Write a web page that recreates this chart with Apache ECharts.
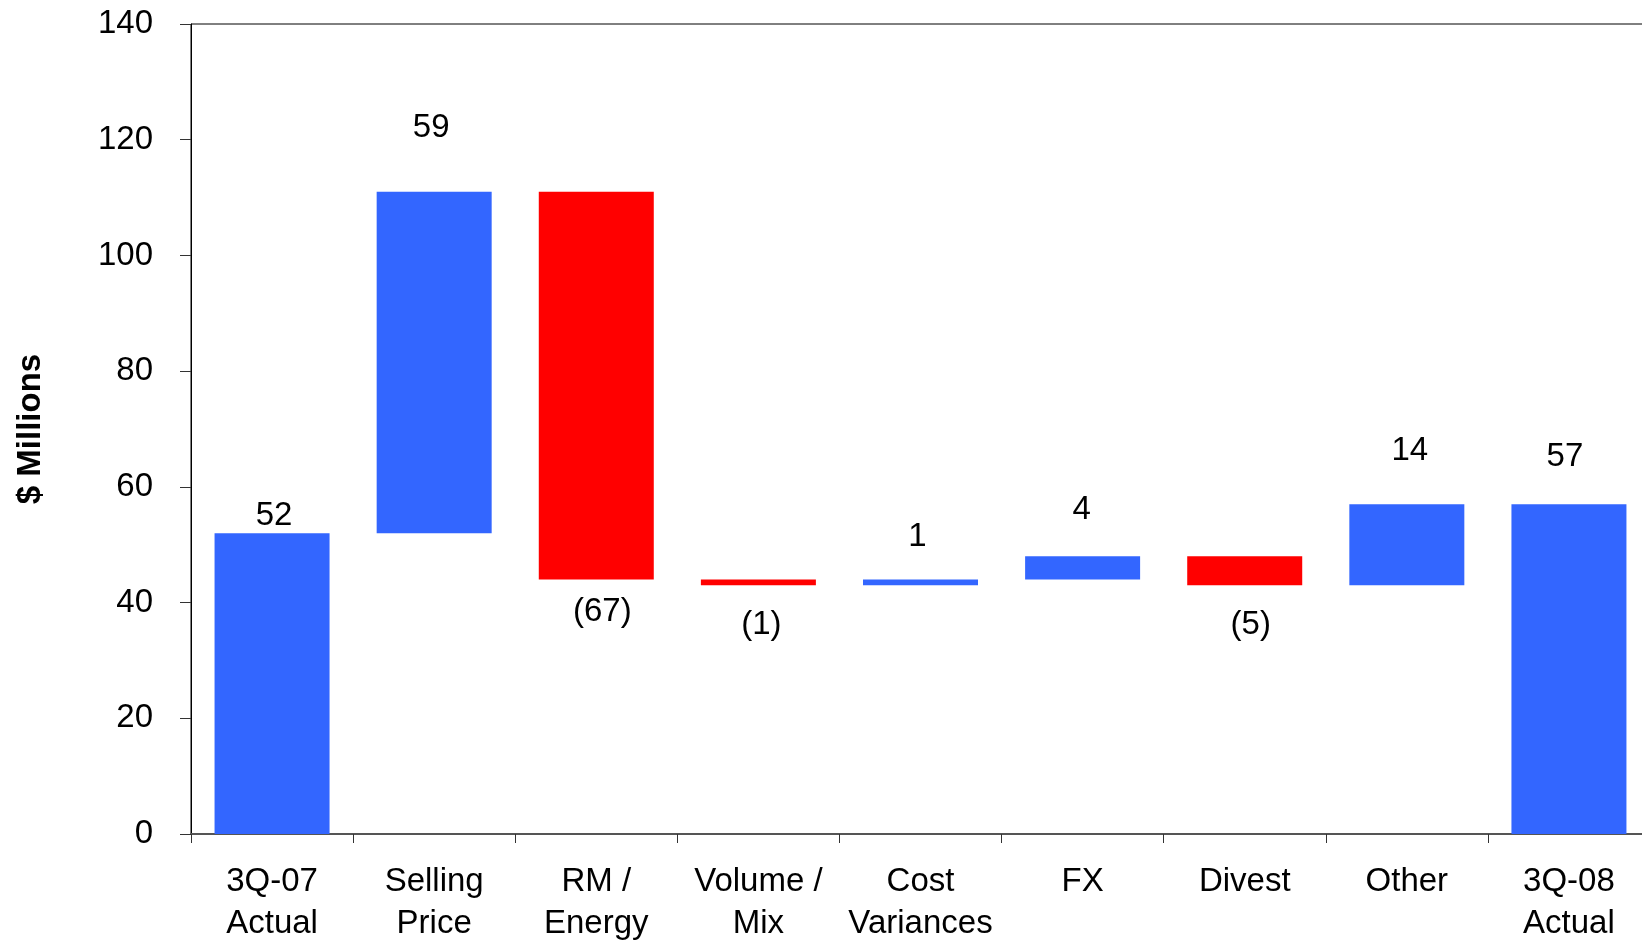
<!DOCTYPE html>
<html>
<head>
<meta charset="utf-8">
<script src="https://cdn.jsdelivr.net/npm/echarts@6/dist/echarts.min.js"></script>
<style>
html,body{margin:0;padding:0;background:#fff;}
#chart{width:1642px;height:940px;}
</style>
</head>
<body>
<div id="chart"></div>
<script>
// ---- data ----
var categories = ['3Q-07\nActual', 'Selling\nPrice', 'RM /\nEnergy', 'Volume /\nMix', 'Cost\nVariances', 'FX', 'Divest', 'Other', '3Q-08\nActual'];
var startValue = 52;
var changes = [59, -67, -1, 1, 4, -5, 14];
var endValue = 57;
var yTicks = [0, 20, 40, 60, 80, 100, 120, 140];

// ---- derived ----
var BLUE = '#3366FF', RED = '#FF0000';
var bases = [0], heights = [startValue], signs = [1];
var running = startValue;
changes.forEach(function (c) {
  var next = running + c;
  bases.push(Math.min(running, next));
  heights.push(Math.abs(c));
  signs.push(c >= 0 ? 1 : -1);
  running = next;
});
bases.push(0); heights.push(endValue); signs.push(1);

// label placement (style): [distance, dx]
var labelStyle = [[1, 2], [47, -3], [16, 6], [23, 3], [26, -3], [30, -1], [23, 6], [37, 3], [31, -4]];

var visible = heights.map(function (h, i) {
  var pos = signs[i] > 0 ? 'top' : 'bottom';
  return {
    value: h,
    itemStyle: { color: signs[i] > 0 ? BLUE : RED },
    label: {
      show: true,
      position: pos,
      distance: labelStyle[i][0],
      offset: [labelStyle[i][1], 0],
      formatter: signs[i] > 0 ? String(h) : '(' + h + ')'
    }
  };
});

var FONT = 'Liberation Sans, Arial, sans-serif';
var chart = echarts.init(document.getElementById('chart'), null, { renderer: 'canvas' });
chart.setOption({
  animation: false,
  backgroundColor: '#fff',
  grid: {
    left: 191, top: 24, width: 1459, height: 810,
    outerBoundsMode: 'none',
    containLabel: false,
    show: true, borderColor: '#000', borderWidth: 1, backgroundColor: 'transparent'
  },
  xAxis: {
    type: 'category',
    data: categories,
    axisLine: { lineStyle: { color: '#555', width: 2 } },
    axisTick: { show: true, length: 9, lineStyle: { color: '#333', width: 1 } },
    axisLabel: {
      color: '#000', fontSize: 33, fontFamily: FONT, margin: 27, lineHeight: 42,
      interval: 0
    }
  },
  yAxis: {
    type: 'value',
    min: yTicks[0], max: yTicks[yTicks.length - 1], interval: yTicks[1] - yTicks[0],
    name: '$ Millions',
    nameLocation: 'middle',
    nameGap: 144,
    nameRotate: 90,
    nameTextStyle: { color: '#000', fontSize: 33, fontWeight: 'bold', fontFamily: FONT },
    axisLine: { show: true, lineStyle: { color: '#000', width: 1 } },
    axisTick: { show: true, length: 11, lineStyle: { color: '#333' } },
    splitLine: { show: false },
    axisLabel: { color: '#000', fontSize: 33, fontFamily: FONT, margin: 38 }
  },
  series: [
    {
      type: 'bar', stack: 'w', barWidth: 115,
      itemStyle: { color: 'transparent' },
      emphasis: { disabled: true },
      data: bases
    },
    {
      type: 'bar', stack: 'w', barWidth: 115,
      label: { color: '#000', fontSize: 33, fontFamily: FONT },
      data: visible
    }
  ]
});
</script>
</body>
</html>
